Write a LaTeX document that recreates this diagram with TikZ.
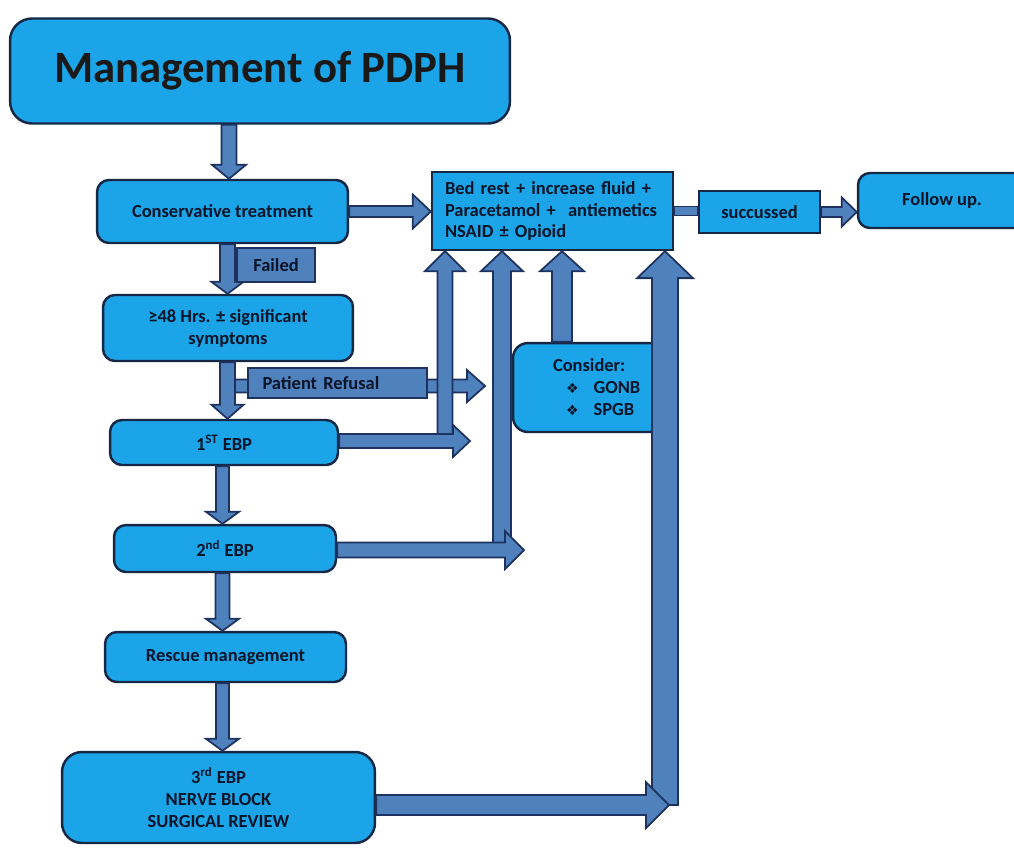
\documentclass[tikz,border=0pt]{standalone}
\usepackage{fontspec}
\setmainfont{Carlito}
\newfontfamily\dejavu{DejaVu Sans}
\usetikzlibrary{calc}
\definecolor{boxfill}{RGB}{27,165,232}
\definecolor{boxdraw}{RGB}{22,40,70}
\definecolor{arrfill}{RGB}{79,129,189}
\definecolor{arrdraw}{RGB}{30,50,95}
\definecolor{txt}{RGB}{10,20,40}
\def\pxu{0.5669pt}
\newcommand\arrdown[5]{\path[barrow] let \p1=(#1), \p2=(#2) in
 (\x1-#3*\pxu,\y1) -- (\x1-#3*\pxu,\y2+#5*\pxu) -- (\x1-#4*\pxu,\y2+#5*\pxu) -- (\x1,\y2)
 -- (\x1+#4*\pxu,\y2+#5*\pxu) -- (\x1+#3*\pxu,\y2+#5*\pxu) -- (\x1+#3*\pxu,\y1) -- cycle;}
\newcommand\arrup[5]{\path[barrow] let \p1=(#1), \p2=(#2) in
 (\x1-#3*\pxu,\y1) -- (\x1-#3*\pxu,\y2-#5*\pxu) -- (\x1-#4*\pxu,\y2-#5*\pxu) -- (\x1,\y2)
 -- (\x1+#4*\pxu,\y2-#5*\pxu) -- (\x1+#3*\pxu,\y2-#5*\pxu) -- (\x1+#3*\pxu,\y1) -- cycle;}
\newcommand\arrright[5]{\path[barrow] let \p1=(#1), \p2=(#2) in
 (\x1,\y1-#3*\pxu) -- (\x2-#5*\pxu,\y1-#3*\pxu) -- (\x2-#5*\pxu,\y1-#4*\pxu) -- (\x2,\y1)
 -- (\x2-#5*\pxu,\y1+#4*\pxu) -- (\x2-#5*\pxu,\y1+#3*\pxu) -- (\x1,\y1+#3*\pxu) -- cycle;}
\newcommand\barright[3]{\path[barrow] let \p1=(#1), \p2=(#2) in
 (\x1,\y1-#3*\pxu) rectangle (\x2,\y1+#3*\pxu);}
\tikzset{
 rbox/.style={draw=boxdraw, line width=1.4pt, fill=boxfill, rounded corners=0.24cm,
   text=txt, font=\fontsize{10.5}{12.5}\selectfont\bfseries, align=center, inner sep=0pt},
 sbox/.style={rbox, rounded corners=0pt},
 lbl/.style={draw=arrdraw, line width=1.2pt, fill=arrfill, text=txt,
   font=\fontsize{10.5}{12.5}\selectfont\bfseries, inner sep=0pt},
 barrow/.style={draw=arrdraw, line width=1pt, fill=arrfill, line join=miter},
}
\begin{document}
\begin{tikzpicture}[x=0.02cm,y=-0.02cm]
\useasboundingbox (0,0) rectangle (1014,850);
\clip (0,0) rectangle (1014,850);
\fill[white] (0,0) rectangle (1014,850);
% columns / free ends
\coordinate (c0) at (229,0);
\coordinate (c1) at (227.5,0);
\coordinate (c2) at (222.5,0);
\coordinate (v1) at (445,0);
\coordinate (v2) at (502,0);
\coordinate (v3) at (562,0);
\coordinate (v4) at (665,0);
\coordinate (tpr) at (485,386);
\coordinate (t1) at (470,441);
\coordinate (t2) at (524,550);
\coordinate (t3) at (669,805);
% boxes
\node[rbox, rounded corners=0.44cm, minimum width=10cm, minimum height=2.1cm,
  font=\fontsize{25.5}{30}\selectfont\bfseries, text=black!90] (title) at (260,71) {Management of PDPH};
\node[rbox, minimum width=5.02cm, minimum height=1.26cm] (cons) at (222.5,211.5) {Conservative treatment};
\node[sbox, minimum width=4.82cm, minimum height=1.56cm, text width=4.3cm, align=left] (bed) at (552.5,211)
  {Bed rest + increase fluid +\\Paracetamol +\ \ antiemetics\\NSAID ± Opioid};
\node[sbox, minimum width=2.42cm, minimum height=0.84cm] (succ) at (759.5,212) {succussed};
\node[rbox, minimum width=3.36cm, minimum height=1.1cm] (follow) at (942,200.5) {Follow up.};
\node[rbox, minimum width=5cm, minimum height=1.32cm] (hrs) at (228,328) {≥48 Hrs. ± significant\\symptoms};
\node[rbox, minimum width=4.56cm, minimum height=0.9cm] (ebp1) at (224,442.5) {1\textsuperscript{ST} EBP};
\node[rbox, minimum width=4.44cm, minimum height=0.94cm] (ebp2) at (225,548.5) {2\textsuperscript{nd} EBP};
\node[rbox, minimum width=4.82cm, minimum height=1.0cm] (rescue) at (225.5,657) {Rescue management};
\node[rbox, rounded corners=0.4cm, minimum width=6.26cm, minimum height=1.82cm] (ebp3) at (218.5,797.5)
  {3\textsuperscript{rd} EBP\\NERVE BLOCK\\SURGICAL REVIEW};
\node[rbox, rounded corners=0.3cm, minimum width=3.04cm, minimum height=1.78cm, text width=2.12cm, align=left] (consider) at (589,387.5)
  {\hspace*{0.34cm}Consider:\\\hspace*{0.6cm}{\dejavu\fontsize{8}{10}\selectfont ❖}\hspace{0.3cm}GONB\\\hspace*{0.6cm}{\dejavu\fontsize{8}{10}\selectfont ❖}\hspace{0.3cm}SPGB};
% arrows
\arrdown{c0 |- title.south}{c0 |- cons.north}{7.5}{17}{14}
\arrdown{c1 |- cons.south}{c1 |- hrs.north}{7.5}{16}{12}
\node[lbl, minimum width=1.56cm, minimum height=0.68cm] (failed) at (276,265) {Failed};
\arrright{c1 |- tpr}{tpr}{6.5}{16}{18}
\arrdown{c1 |- hrs.south}{c1 |- ebp1.north}{7.5}{16}{14}
\node[lbl, minimum width=3.58cm, minimum height=0.6cm, text width=3.0cm, align=left] (refusal) at (337.5,383) {Patient Refusal};
\arrup{v1 |- t1}{v1 |- bed.south}{7.5}{20}{20}
\arrright{ebp1.east |- t1}{t1}{7}{16}{17}
\arrup{v2 |- t2}{v2 |- bed.south}{9}{21}{20}
\arrright{ebp2.east |- t2}{t2}{7.5}{19}{19}
\arrup{v3 |- consider.north}{v3 |- bed.south}{10}{22}{20}
\arrup{v4 |- t3}{v4 |- bed.south}{13}{28}{27}
\arrright{ebp3.east |- t3}{t3}{10}{23}{23}
\arrright{cons.east}{bed.west}{5.5}{17}{18}
\barright{bed.east}{succ.west}{4.5}
\arrright{succ.east}{follow.west}{5}{14.5}{15}
\arrdown{c2 |- ebp1.south}{c2 |- ebp2.north}{6.5}{16.5}{12}
\arrdown{c2 |- ebp2.south}{c2 |- rescue.north}{7}{16.5}{12}
\arrdown{c2 |- rescue.south}{c2 |- ebp3.north}{6.5}{16.5}{12}
\end{tikzpicture}
\end{document}
